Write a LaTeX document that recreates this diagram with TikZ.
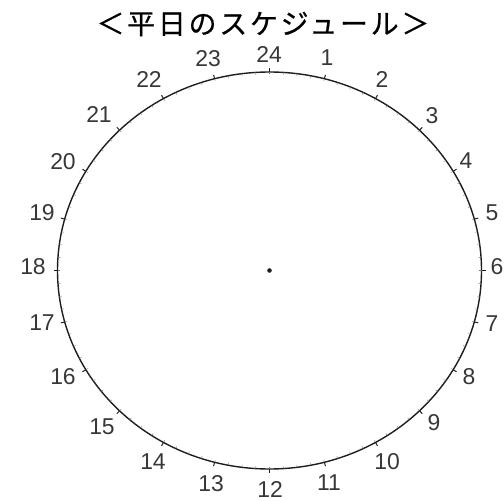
\documentclass[tikz,border=0pt]{standalone}
\usepackage{fontspec}
\setmainfont{Liberation Sans}
\newfontfamily\titlefont[LetterSpace=10,FakeBold=0.6]{Noto Sans CJK JP}
\usetikzlibrary{calc}
\definecolor{ink}{RGB}{30,30,30}
\definecolor{numgray}{RGB}{55,55,55}

\begin{document}
\begin{tikzpicture}[x=1bp,y=-1bp]
    \useasboundingbox (0,0) rectangle (504,501);
    \coordinate (centre) at (269.5,270.5);
    \node[font=\titlefont\fontsize{28}{32}\selectfont] (title) at (263,24) {＜平日のスケジュール＞};
    \draw[ink,line width=1.4bp] (centre) ellipse [x radius=212,y radius=198.5];
    \fill[ink] (centre) circle (2.3);
    \foreach \m in {0,...,95}
      \draw[ink!60,line width=0.4bp] ($(centre)+({\m*3.75-90}:212 and 198.5)$) -- ($(centre)+({\m*3.75-90}:209.5 and 196)$);
    \foreach \h/\x/\y in {
      1/327/58, 2/382/80, 3/432/116, 4/466/161, 5/492/213, 6/497/267,
      7/492/324, 8/469/377, 9/434/423, 10/387/462, 11/329/483, 12/270/489,
      13/211/484, 14/153/462, 15/102/427, 16/63/377, 17/42/323, 18/33/267,
      19/42/213, 20/63/162, 21/99/115, 22/149/80, 23/208/59, 24/269/55}
    {
      \draw[ink,line width=1bp] ($(centre)+({\h*15-90}:212 and 198.5)$) -- ($(centre)+({\h*15-90}:216 and 202.5)$);
      \node[font=\fontsize{23}{23}\selectfont,text=numgray] (hour\h) at (\x,\y) {\h};
    }
\end{tikzpicture}
\end{document}
